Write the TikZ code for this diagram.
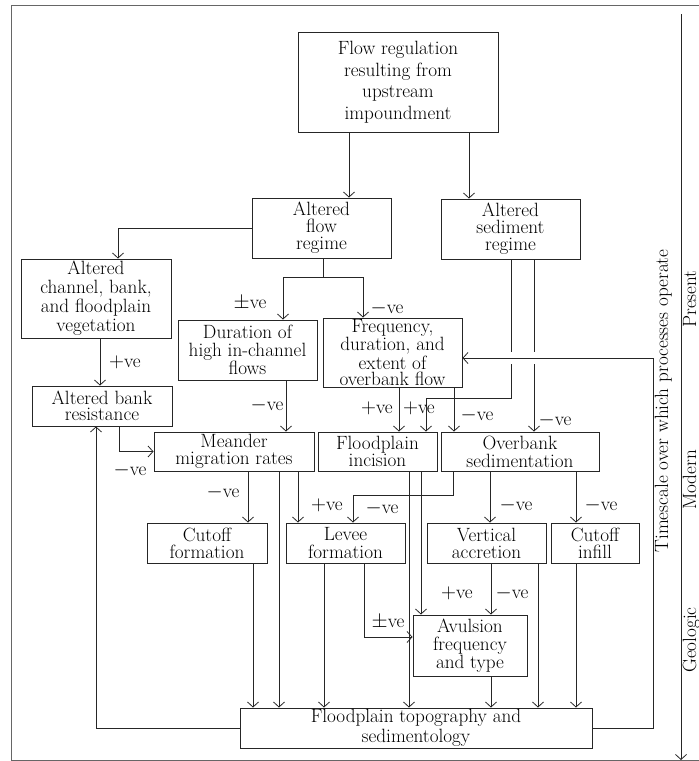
\documentclass[tikz,border=0pt]{standalone}
\usetikzlibrary{arrows.meta}
\begin{document}
\begin{tikzpicture}[x=1pt,y=-1pt,
  box/.style={draw=black!85, line width=0.9pt, align=center, inner sep=0pt, font=\fontsize{19.2}{17}\selectfont},
  lbl/.style={inner sep=0pt, font=\fontsize{19.2}{17}\selectfont},
  ln/.style={draw=black!85, line width=0.9pt},
  arr/.style={ln, -{Straight Barb[length=5pt,width=11pt,line width=0.8pt]}}]
\useasboundingbox (0,0) rectangle (699,761);
% frame
\draw[black!60, line width=0.9pt] (699,5) -- (11,5) -- (11,760) -- (699,760);
% boxes
\node[box, minimum width=200pt, minimum height=100pt, font=\fontsize{19.2}{21.5}\selectfont] (top) at (398,82) {Flow regulation\\resulting from\\upstream\\impoundment};
\node[box, minimum width=139pt, minimum height=60pt, font=\fontsize{19.2}{17}\selectfont] (flow) at (321.5,228) {Altered\\flow\\regime};
\node[box, minimum width=139pt, minimum height=60pt] (sed) at (510.5,229) {Altered\\sediment\\regime};
\node[box, minimum width=150pt, minimum height=79pt, font=\fontsize{19.2}{19}\selectfont] (veg) at (96,298.5) {Altered\\channel, bank,\\and floodplain\\vegetation};
\node[box, minimum width=139pt, minimum height=60pt, font=\fontsize{19.2}{18}\selectfont] (dur) at (247.5,350) {Duration of\\high in-channel\\flows};
\node[box, minimum width=139pt, minimum height=69pt, font=\fontsize{19.2}{16.3}\selectfont] (freq) at (392.5,352.5) {Frequency,\\duration, and\\extent of\\overbank flow};
\node[box, minimum width=140pt, minimum height=40pt, font=\fontsize{19.2}{16.5}\selectfont] (bank) at (102,406) {Altered bank\\resistance};
\node[box, minimum width=160pt, minimum height=39pt] (mea) at (234,451.5) {Meander\\migration rates};
\node[box, minimum width=119pt, minimum height=39pt] (inc) at (377.5,451.5) {Floodplain\\incision};
\node[box, minimum width=158pt, minimum height=39pt, font=\fontsize{19.2}{18}\selectfont] (ovb) at (520,451.5) {Overbank\\sedimentation};
\node[box, minimum width=120pt, minimum height=40pt] (cof) at (207,543) {Cutoff\\formation};
\node[box, minimum width=119pt, minimum height=40pt, font=\fontsize{19.2}{18}\selectfont] (lev) at (345.5,543) {Levee\\formation};
\node[box, minimum width=119pt, minimum height=40pt] (vac) at (486.5,543) {Vertical\\accretion};
\node[box, minimum width=88pt, minimum height=40pt] (cin) at (595,543) {Cutoff\\infill};
\node[box, minimum width=114pt, minimum height=61pt, font=\fontsize{19.2}{18}\selectfont] (avu) at (470,645.5) {Avulsion\\frequency\\and type};
\node[box, minimum width=352pt, minimum height=40pt, font=\fontsize{19.2}{20}\selectfont] (fpt) at (416,728) {Floodplain topography and\\sedimentology};
% connectors
\draw[arr] (top.south -| 349,0) -- (flow.north -| 349,0);
\draw[arr] (top.south -| 469,0) -- (sed.north -| 469,0);
\draw[arr] (flow.west) -| (veg.north -| 118,0);
\draw[arr] (veg.south -| 100,0) -- (bank.north -| 100,0);
\coordinate (fsplit) at (323,277);
\draw[ln] (flow.south -| fsplit) -- (fsplit);
\draw[arr] (fsplit) -| (dur.north -| 283,0);
\draw[arr] (fsplit) -| (freq.north -| 363,0);
\draw[arr] (dur.south -| 286,0) -- (mea.north -| 286,0);
\draw[arr] (bank.south -| 119,0) |- (mea.west);
\draw[arr] (fpt.west) -| (bank.south -| 96,0);
\draw[arr] (mea.south -| 248,0) -- (cof.north -| 248,0);
\draw[arr] (mea.south -| 279,0) -- (fpt.north -| 279,0);
\draw[arr] (mea.south -| 298,0) -- (lev.north -| 298,0);
\draw[arr] (freq.south -| 399,0) -- (inc.north -| 399,0);
\draw[ln] (sed.south -| 511,0) -- (511,352);
\draw[arr] (511,364) -- (511,398) -| (inc.north -| 426,0);
\draw[arr] (freq.south -| 454,0) -- (ovb.north -| 454,0);
\draw[ln] (sed.south -| 534,0) -- (534,352);
\draw[arr] (534,364) -- (ovb.north -| 534,0);
\draw[arr] (ovb.south -| 453,0) -- (453,495) -| (lev.north -| 353,0);
\draw[arr] (ovb.south -| 490,0) -- (vac.north -| 490,0);
\draw[arr] (ovb.south -| 576,0) -- (cin.north -| 576,0);
\draw[arr] (inc.south -| 409,0) -- (fpt.north -| 409,0);
\draw[arr] (inc.south -| 421,0) -- (avu.north -| 421,0);
\draw[arr] (cof.south -| 253,0) -- (fpt.north -| 253,0);
\draw[arr] (lev.south -| 324,0) -- (fpt.north -| 324,0);
\draw[arr] (lev.south -| 364,0) |- (avu.west |- 0,637);
\draw[arr] (vac.south -| 491,0) -- (avu.north -| 491,0);
\draw[arr] (vac.south -| 538,0) -- (fpt.north -| 538,0);
\draw[arr] (cin.south -| 576,0) -- (fpt.north -| 576,0);
\draw[arr] (avu.south -| 491,0) -- (fpt.north -| 491,0);
\draw[arr] (fpt.east) -| (653,358) -- (freq.east |- 0,358);
% labels
\node[lbl] at (125,362) {$+$ve};
\node[lbl] at (250,303) {$\pm$ve};
\node[lbl] at (387,308) {$-$ve};
\node[lbl] at (267,405) {$-$ve};
\node[lbl] at (130,470) {$-$ve};
\node[lbl] at (223,492) {$-$ve};
\node[lbl] at (327,505) {$+$ve};
\node[lbl] at (377,408) {$+$ve};
\node[lbl] at (419,408) {$+$ve};
\node[lbl] at (477,415) {$-$ve};
\node[lbl] at (555,420) {$-$ve};
\node[lbl] at (382,508) {$-$ve};
\node[lbl] at (516,505) {$-$ve};
\node[lbl] at (601,505) {$-$ve};
\node[lbl] at (388,622) {$\pm$ve};
\node[lbl] at (457,593) {$+$ve};
\node[lbl] at (512,593) {$-$ve};
% timeline
\coordinate (tltop) at (681,14);
\coordinate (tlbot) at (681,760);
\draw[arr] (tltop) -- (tlbot);
\node[lbl, rotate=90, anchor=base] (tsl) at (668,401) {Timescale over which processes operate};
\node[lbl, rotate=90, anchor=base] (pres) at (696,299) {Present};
\node[lbl, rotate=90, anchor=base] (mod) at (696,480) {Modern};
\node[lbl, rotate=90, anchor=base] (geo) at (696,640) {Geologic};
\end{tikzpicture}
\end{document}
